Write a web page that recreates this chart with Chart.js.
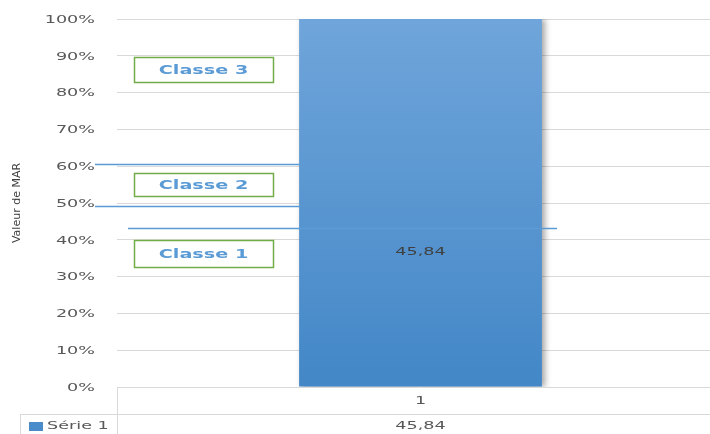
<!DOCTYPE html>
<html>
<head>
<meta charset="utf-8">
<script src="https://cdn.jsdelivr.net/npm/chart.js@4.4.0/dist/chart.umd.min.js"></script>
<style>
  html, body { margin: 0; padding: 0; background: #fff; overflow: hidden; }
  #wrap { width: 710px; height: 434px; overflow: hidden; }
  canvas { display: block; }
</style>
</head>
<body>
<div id="wrap"><canvas id="chart" width="724" height="434"></canvas></div>
<script>
// chart data
const categories = ['1'];
const seriesName = 'Série 1';
const seriesValues = [45.84];
const labelAt = [36.7];            // where the value label sits on the % axis
const classLabels = ['Classe 1', 'Classe 2', 'Classe 3'];
const classBands = [[32.6, 40], [51.9, 58.2], [82.9, 89.7]];
const thresholdLines = [60.6, 49.2, 43.2];

// look
const SX = 1.6;                    // the source picture is stretched sideways
const GRID = '#d9d9d9';
const TEXT = '#595959';
const LINE_BLUE = '#5b9bd5';
const lineSpans = [[95, 300], [95, 300], [128, 557]];

const total = seriesValues.reduce((s, v) => s + v, 0);
const pct = seriesValues.map(v => v / total * 100);

function stretchText(ctx, text, x, y, align, font, color) {
  ctx.save();
  ctx.font = font;
  ctx.fillStyle = color;
  ctx.textBaseline = 'middle';
  ctx.textAlign = align;
  ctx.translate(x, y);
  ctx.scale(SX, 1);
  ctx.fillText(text, 0, 0);
  ctx.restore();
}

const fmt = v => v.toFixed(2).replace('.', ',');

const extras = {
  id: 'extras',
  beforeDatasetsDraw(chart) {
    const ctx = chart.ctx;
    ctx.save();
    ctx.shadowColor = 'rgba(0,0,0,0.35)';
    ctx.shadowBlur = 6;
    ctx.shadowOffsetX = 3;
    ctx.shadowOffsetY = 0;
  },
  afterDatasetsDraw(chart) {
    chart.ctx.restore();
  },
  afterDraw(chart) {
    const ctx = chart.ctx;
    const y = chart.scales.y;
    const x = chart.scales.x;
    const area = chart.chartArea;

    // y tick labels
    y.ticks.forEach(t => {
      stretchText(ctx, t.value + '%', 95, y.getPixelForValue(t.value) + 1, 'right', '11px "DejaVu Sans"', TEXT);
    });

    // threshold lines
    ctx.save();
    ctx.strokeStyle = LINE_BLUE;
    ctx.lineWidth = 1.5;
    thresholdLines.forEach((v, i) => {
      const py = Math.round(y.getPixelForValue(v)) + 0.5;
      ctx.beginPath();
      ctx.moveTo(lineSpans[i][0], py);
      ctx.lineTo(lineSpans[i][1], py);
      ctx.stroke();
    });
    ctx.restore();

    // class boxes
    classLabels.forEach((lab, i) => {
      const top = y.getPixelForValue(classBands[i][1]);
      const bot = y.getPixelForValue(classBands[i][0]);
      ctx.save();
      ctx.fillStyle = '#fff';
      ctx.fillRect(134, top, 139, bot - top);
      ctx.strokeStyle = '#70ad47';
      ctx.lineWidth = 1.5;
      ctx.strokeRect(134.5, Math.round(top) + 0.5, 139, Math.round(bot - top));
      ctx.restore();
      stretchText(ctx, lab, 203.5, (top + bot) / 2 + 1, 'center', 'bold 12px "DejaVu Sans"', LINE_BLUE);
    });

    // value labels
    seriesValues.forEach((v, i) => {
      stretchText(ctx, fmt(v), x.getPixelForValue(i), y.getPixelForValue(labelAt[i]), 'center', '11px "DejaVu Sans"', '#404040');
    });

    // data table
    const rowTop = area.bottom;
    const rowMid = 414;
    const rowBot = 434;
    ctx.save();
    ctx.strokeStyle = GRID;
    ctx.lineWidth = 1;
    ctx.beginPath();
    ctx.moveTo(area.left + 0.5, rowTop);
    ctx.lineTo(area.left + 0.5, rowBot);
    ctx.moveTo(20, rowMid + 0.5);
    ctx.lineTo(chart.width, rowMid + 0.5);
    ctx.moveTo(20.5, rowMid);
    ctx.lineTo(20.5, rowBot);
    ctx.stroke();
    ctx.restore();

    categories.forEach((c, i) => {
      const cx = x.getPixelForValue(i);
      stretchText(ctx, c, cx, (rowTop + rowMid) / 2 + 1, 'center', '11px "DejaVu Sans"', TEXT);
      stretchText(ctx, fmt(seriesValues[i]), cx, (rowMid + rowBot) / 2 + 2, 'center', '11px "DejaVu Sans"', TEXT);
    });
    ctx.save();
    ctx.fillStyle = '#4a8bca';
    ctx.fillRect(29, 422, 14, 9);
    ctx.restore();
    stretchText(ctx, seriesName, 47, 426, 'left', '11px "DejaVu Sans"', TEXT);
  }
};

new Chart(document.getElementById('chart'), {
  type: 'bar',
  data: {
    labels: categories,
    datasets: [{
      label: seriesName,
      data: pct,
      barPercentage: 1,
      categoryPercentage: 0.4,
      borderWidth: 0,
      backgroundColor: c => {
        const a = c.chart.chartArea;
        if (!a) return '#5b9bd5';
        const g = c.chart.ctx.createLinearGradient(0, a.top, 0, a.bottom);
        g.addColorStop(0, '#6fa5da');
        g.addColorStop(1, '#4387c7');
        return g;
      }
    }]
  },
  options: {
    responsive: false,
    animation: false,
    devicePixelRatio: 1,
    layout: { padding: { top: 19, bottom: 47, left: 0, right: 0 } },
    plugins: { legend: { display: false }, tooltip: { enabled: false } },
    scales: {
      x: {
        display: false,
        grid: { display: false }
      },
      y: {
        min: 0,
        max: 100,
        ticks: { stepSize: 10, display: false },
        border: { display: false },
        grid: { color: GRID, lineWidth: 1, drawTicks: false },
        title: {
          display: true,
          text: 'Valeur de MAR',
          color: '#404040',
          font: { family: '"DejaVu Sans"', size: 11 },
          padding: { top: 11, bottom: 0 }
        },
        afterFit: s => { s.width = 117; }
      }
    }
  },
  plugins: [extras]
});
</script>
</body>
</html>
